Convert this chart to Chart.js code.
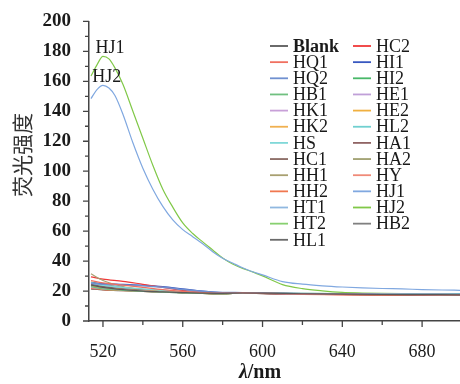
<!DOCTYPE html>
<html lang="zh">
<head>
    <meta charset="UTF-8"/>
    <title>荧光强度</title>
    <script src="https://cdn.jsdelivr.net/npm/chart.js"></script>
    <style>
        html, body {
            margin: 0;
            padding: 0;
            background-color: #fff;
        }
        canvas {
            display: block;
        }
    </style>
</head>
<body>
<canvas id="spectra" width="460" height="384"></canvas>

<script>
    // wavelengths (nm)
    const waveHigh = [514, 517, 520, 523, 526, 530, 535, 540, 545, 550, 555, 560, 565, 570, 575,
                      580, 585, 590, 595, 600, 610, 620, 630, 640, 650, 660, 670, 680, 690, 699];
    const waveLow = [514, 520, 530, 540, 550, 560, 570, 580, 590, 600, 620, 640, 660, 680, 699];

    const xTicks = [520, 560, 600, 640, 680];
    const xMinorTicks = [540, 580, 620, 660];
    const yMinorTicks = [10, 30, 50, 70, 90, 110, 130, 150, 170, 190];

    // fluorescence intensity
    const hj1 = [148.5, 154.5, 157.3, 155.5, 150.5, 138, 119, 102, 88, 76.5, 67.5, 61, 56.3, 51.5, 46.3,
                 41.9, 38.7, 35.5, 32.9, 30.8, 26.3, 24.6, 23.5, 22.7, 22.1, 21.7, 21.4, 21, 20.7, 20.5];
    const hj2 = [163.5, 171, 176.7, 175, 169, 158, 140, 122, 104, 88, 76, 65.5, 58.4, 52.8, 47.4,
                 42, 38, 35.1, 32.8, 30.1, 24.3, 21.6, 20.1, 19.1, 18.7, 18.4, 18.3, 18.3, 18.2, 18.2];

    const blank = [24, 22.5, 21, 20, 19.5, 19, 18.6, 18.5, 18.7, 18.6, 18.2, 17.9, 17.7, 17.6, 17.5];
    const hq1 = [27, 25.5, 24, 22.5, 21, 19.8, 19, 18.6, 18.8, 18.5, 18, 17.8, 17.6, 17.5, 17.4];
    const hq2 = [25, 24.5, 24, 23.5, 22.5, 21, 19.8, 19, 18.9, 18.6, 18.2, 18, 17.9, 17.8, 17.7];
    const hb1 = [23, 21.5, 20.5, 19.8, 19.3, 18.8, 18.5, 18.3, 18.6, 18.5, 18.2, 18, 17.8, 17.7, 17.6];
    const hk1 = [22.5, 21.5, 20.8, 20, 19.5, 19, 18.6, 18.4, 18.7, 18.5, 18.1, 17.9, 17.8, 17.7, 17.6];
    const hk2 = [23.5, 22, 21, 20.2, 19.6, 19.1, 18.7, 18.4, 18.8, 18.6, 18.3, 18.1, 17.9, 17.8, 17.7];
    const hs = [25.5, 24, 22.5, 21.5, 20.5, 19.5, 19, 18.6, 18.8, 18.6, 18.3, 18.1, 18, 17.9, 17.8];
    const hc1 = [24.5, 23, 21.5, 20.5, 19.6, 19, 18.6, 18.3, 18.5, 18.4, 18, 17.8, 17.6, 17.5, 17.4];
    const hh1 = [31.5, 27, 23, 21, 19.8, 19, 18.6, 18.4, 18.6, 18.5, 18.2, 18, 17.9, 17.8, 17.7];
    const hh2 = [22, 21, 20.3, 19.8, 19.3, 18.9, 18.5, 18.3, 18.6, 18.4, 18, 17.7, 17.5, 17.4, 17.3];
    const ht1 = [24, 23, 22, 21, 20.2, 19.4, 18.9, 18.6, 18.8, 18.6, 18.4, 18.3, 18.2, 18.1, 18];
    const ht2 = [23, 21.8, 20.8, 20, 19.4, 18.9, 18.5, 18.3, 18.6, 18.5, 18.2, 18, 17.9, 17.8, 17.7];
    const hl1 = [21.5, 20.8, 20.2, 19.7, 19.2, 18.8, 18.4, 18.2, 18.5, 18.3, 17.9, 17.7, 17.5, 17.4, 17.3];
    const hc2 = [29.5, 28, 26.5, 24.5, 22.5, 20.5, 19.3, 18.7, 18.6, 18.4, 17.9, 17.6, 17.4, 17.3, 17.2];
    const hi1 = [25.5, 25, 24.5, 24, 23, 21.5, 20, 19, 18.8, 18.6, 18.3, 18.1, 18, 17.9, 17.8];
    const hi2 = [22.5, 21.5, 20.6, 19.9, 19.4, 18.9, 18.5, 18.3, 18.6, 18.5, 18.4, 18.3, 18.2, 18.2, 18.1];
    const he1 = [23.5, 22.5, 21.5, 20.6, 19.8, 19.2, 18.8, 18.5, 18.7, 18.5, 18.2, 18, 17.9, 17.8, 17.7];
    const he2 = [24, 22.8, 21.6, 20.6, 19.8, 19.2, 18.7, 18.4, 18.7, 18.5, 18.1, 17.9, 17.7, 17.6, 17.5];
    const hl2 = [25, 23.5, 22.2, 21.2, 20.2, 19.4, 18.9, 18.6, 18.8, 18.6, 18.3, 18.2, 18.1, 18, 17.9];
    const ha1 = [22.8, 21.8, 20.9, 20.1, 19.5, 19, 18.6, 18.3, 18.6, 18.4, 18, 17.8, 17.6, 17.5, 17.4];
    const ha2 = [26, 24.5, 22.5, 21, 20, 19.2, 18.7, 18.4, 18.7, 18.5, 18.2, 18, 17.9, 17.8, 17.7];
    const hy = [21.5, 21, 20.5, 20, 19.5, 19, 18.6, 18.3, 18.5, 18.3, 17.8, 17.5, 17.3, 17.2, 17.1];
    const hb2 = [23, 22, 21, 20.3, 19.7, 19.1, 18.7, 18.4, 18.6, 18.4, 18, 17.8, 17.7, 17.6, 17.5];

    const seriesNames = ['Blank', 'HQ1', 'HQ2', 'HB1', 'HK1', 'HK2', 'HS', 'HC1', 'HH1', 'HH2', 'HT1', 'HT2', 'HL1',
                         'HC2', 'HI1', 'HI2', 'HE1', 'HE2', 'HL2', 'HA1', 'HA2', 'HY', 'HJ1', 'HJ2', 'HB2'];
    const seriesValues = [blank, hq1, hq2, hb1, hk1, hk2, hs, hc1, hh1, hh2, ht1, ht2, hl1,
                          hc2, hi1, hi2, he1, he2, hl2, ha1, ha2, hy, hj1, hj2, hb2];
    const seriesColors = ['#5a5a5a', '#f07060', '#7090d0', '#70c080', '#c8a0d8', '#f0b050', '#80d8d8', '#8a6a62',
                          '#a8a070', '#f07850', '#90b8e0', '#88d070', '#6a6a6a',
                          '#f03838', '#3858c0', '#48b868', '#c0a0d8', '#f0b040', '#70d0d0', '#906464',
                          '#a0a070', '#f08a78', '#80a8e0', '#80c848', '#808080'];

    const serif = '"Liberation Serif", "Times New Roman", serif';

    const datasets = seriesNames.map((name, i) => {
        const values = seriesValues[i];
        const waves = values.length === waveHigh.length ? waveHigh : waveLow;
        return {
            label: name,
            data: values.map((v, j) => ({x: waves[j], y: v})),
            borderColor: seriesColors[i],
            borderWidth: name === 'HQ2' ? 1.6 : 1.2,
            pointRadius: 0,
            cubicInterpolationMode: 'monotone',
            fill: false
        };
    });

    // tick marks, legend, curve labels and axis titles
    const decor = {
        id: 'decor',
        afterDraw(chart) {
            const {ctx, chartArea, scales: {x, y}} = chart;
            ctx.save();

            ctx.strokeStyle = '#444';
            ctx.lineWidth = 1.3;
            ctx.beginPath();
            xTicks.forEach(v => { const px = x.getPixelForValue(v); ctx.moveTo(px, chartArea.bottom); ctx.lineTo(px, chartArea.bottom + 6); });
            xMinorTicks.forEach(v => { const px = x.getPixelForValue(v); ctx.moveTo(px, chartArea.bottom); ctx.lineTo(px, chartArea.bottom + 4); });
            for (let v = 0; v <= 200; v += 20) {
                const py = y.getPixelForValue(v);
                ctx.moveTo(chartArea.left, py); ctx.lineTo(chartArea.left - 6, py);
            }
            yMinorTicks.forEach(v => { const py = y.getPixelForValue(v); ctx.moveTo(chartArea.left, py); ctx.lineTo(chartArea.left - 4, py); });
            ctx.stroke();

            // legend in two columns
            ctx.textBaseline = 'middle';
            ctx.textAlign = 'left';
            chart.data.datasets.forEach((ds, i) => {
                const col = i < 13 ? 0 : 1;
                const row = col === 0 ? i : i - 13;
                const lx = col === 0 ? 270 : 353;
                const ly = 46 + row * 16.15;
                ctx.strokeStyle = ds.borderColor;
                ctx.lineWidth = 1.8;
                ctx.beginPath();
                ctx.moveTo(lx, ly);
                ctx.lineTo(lx + 18, ly);
                ctx.stroke();
                ctx.fillStyle = '#1a1a1a';
                ctx.font = (ds.label === 'Blank' ? 'bold ' : '') + '18px ' + serif;
                ctx.fillText(ds.label, lx + 23, ly + 1);
            });

            // curve labels
            ctx.font = '18px ' + serif;
            ctx.fillText('HJ1', x.getPixelForValue(516.3), y.getPixelForValue(182));
            ctx.fillText('HJ2', x.getPixelForValue(514.6), y.getPixelForValue(163));

            // y title
            ctx.save();
            ctx.translate(22, 155);
            ctx.rotate(-Math.PI / 2);
            ctx.textAlign = 'center';
            ctx.fillStyle = '#333';
            ctx.font = '21px "Noto Sans CJK SC"';
            ctx.fillText('荧光强度', 0, 0);
            ctx.restore();

            // x title
            ctx.fillStyle = '#1a1a1a';
            ctx.font = 'italic bold 20px ' + serif;
            const lam = 'λ';
            const rest = '/nm';
            const wl = ctx.measureText(lam).width;
            ctx.font = 'bold 20px ' + serif;
            const wr = ctx.measureText(rest).width;
            const startX = 260 - (wl + wr) / 2;
            ctx.font = 'italic bold 20px ' + serif;
            ctx.fillText(lam, startX, 373);
            ctx.font = 'bold 20px ' + serif;
            ctx.fillText(rest, startX + wl, 373);

            ctx.restore();
        }
    };

    const chart = new Chart(document.getElementById('spectra'), {
        type: 'line',
        data: {datasets: datasets},
        options: {
            responsive: false,
            animation: false,
            layout: {padding: {top: 20, right: 0, left: 0, bottom: 0}},
            plugins: {
                legend: {display: false},
                tooltip: {enabled: false}
            },
            scales: {
                x: {
                    type: 'linear',
                    min: 513,
                    max: 699,
                    grid: {display: false},
                    border: {color: '#444', width: 1.5},
                    ticks: {
                        color: '#1a1a1a',
                        padding: 12,
                        maxRotation: 0,
                        font: {family: serif, size: 18}
                    },
                    afterBuildTicks: s => { s.ticks = xTicks.map(v => ({value: v})); },
                    afterFit: s => { s.height = 63; }
                },
                y: {
                    min: 0,
                    max: 200,
                    grid: {display: false},
                    border: {color: '#444', width: 1.5},
                    ticks: {
                        stepSize: 20,
                        color: '#1a1a1a',
                        padding: 10,
                        font: {family: serif, size: 19, weight: 'bold'}
                    },
                    afterFit: s => { s.width = 89; }
                }
            }
        },
        plugins: [decor]
    });
</script>
</body>
</html>
